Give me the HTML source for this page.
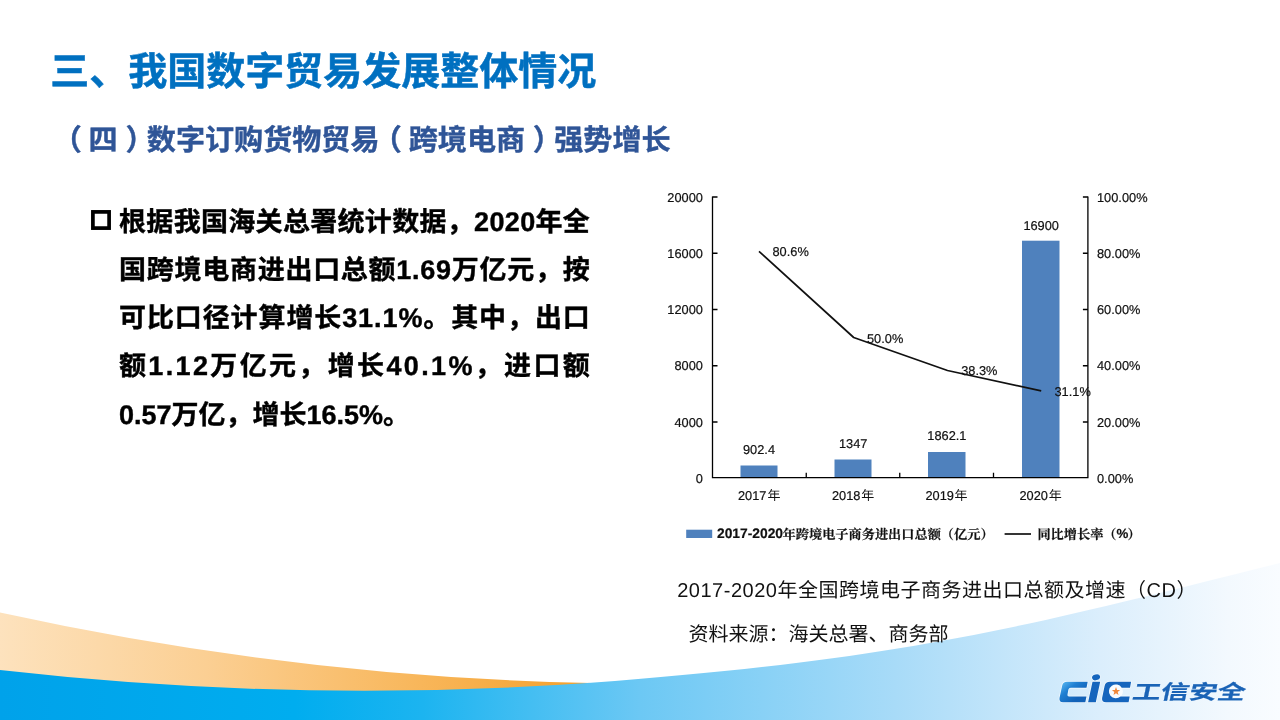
<!DOCTYPE html>
<html lang="zh-CN">
<head>
<meta charset="utf-8">
<title>三、我国数字贸易发展整体情况</title>
<style>
html,body{margin:0;padding:0;background:#fff}
body{width:1280px;height:720px;overflow:hidden;position:relative;font-family:"Liberation Sans",sans-serif}
#art{position:absolute;left:0;top:0;display:block;will-change:transform}
#art text{font-family:"Liberation Sans","Noto Sans CJK SC",sans-serif;font-size:12.8px;fill:#111;stroke:#111;stroke-width:.2px;text-rendering:geometricPrecision}
#art text.t1{font-weight:bold;font-size:39px;fill:#0070c0;stroke:#0070c0;stroke-width:.5px}
#art text.t2{font-weight:bold;font-size:29.1px;fill:#2f5597;stroke:#2f5597;stroke-width:.4px}
#art text.bd{font-weight:bold;font-size:27px;fill:#000;stroke:#000;stroke-width:.4px}
#art text.cap{font-size:20px;fill:#111;stroke:none}
#art text.lg{font-family:"Liberation Serif","Noto Serif CJK SC",serif;font-weight:bold;font-size:13.2px;fill:#111;stroke:#111;stroke-width:.2px}
#art text.logo{font-weight:bold;font-size:20px;fill:#1a63b6;stroke:#1a63b6;stroke-width:.2px}
</style>
</head>
<body>
<svg id="art" width="1280" height="720" viewBox="0 0 1280 720">
<defs>
<linearGradient id="gO" x1="0" y1="0" x2="591" y2="0" gradientUnits="userSpaceOnUse">
<stop offset="0" stop-color="#fde2bd"/><stop offset=".35" stop-color="#fbcf93"/><stop offset=".7" stop-color="#f8b75c"/><stop offset="1" stop-color="#f5a02a"/>
</linearGradient>
<linearGradient id="gB" x1="0" y1="0" x2="1280" y2="0" gradientUnits="userSpaceOnUse">
<stop offset="0" stop-color="#00a2ea"/><stop offset=".23" stop-color="#00adef"/><stop offset=".33" stop-color="#1cb4f0"/><stop offset=".5" stop-color="#6cc8f4"/><stop offset=".7" stop-color="#a8dbf8"/><stop offset=".86" stop-color="#dbeefc"/><stop offset=".96" stop-color="#f3f9fe"/><stop offset="1" stop-color="#f9fcff"/>
</linearGradient>
<linearGradient id="gC" x1="1061" y1="683" x2="1075" y2="700" gradientUnits="userSpaceOnUse">
<stop offset="0" stop-color="#58b6f0"/><stop offset=".45" stop-color="#1f7fd2"/><stop offset="1" stop-color="#1262b8"/>
</linearGradient>

</defs>

<!-- bottom decoration -->
<path d="M0,612.5Q295.5,677.3 591,683L591,720L0,720Z" fill="url(#gO)"/>
<path d="M0,670Q295.5,703.6 591,682.7C907.7,659 1031.6,625.2 1280,563L1280,720L0,720Z" fill="url(#gB)"/>

<!-- chart -->
<g fill="#4f81bd">
<rect x="740.5" y="465.5" width="37" height="12.5"/>
<rect x="834.5" y="459.5" width="37" height="18.5"/>
<rect x="928" y="452" width="37.5" height="26"/>
<rect x="1022" y="240.7" width="37.5" height="237.3"/>
<rect x="686.2" y="529.7" width="26" height="8.3"/>
</g>
<g stroke="#000" stroke-width="1.3" fill="none">
<path d="M712.5,196.4V477.7H1087.9V196.4"/>
<path d="M712.5,197h5M712.5,253.25h5M712.5,309.5h5M712.5,365.75h5M712.5,422h5"/>
<path d="M1087.9,197h-5M1087.9,253.25h-5M1087.9,309.5h-5M1087.9,365.75h-5M1087.9,422h-5"/>
<path d="M806.25,477.7v-5M899.75,477.7v-5M993.5,477.7v-5"/>
</g>
<g stroke="#111" stroke-width="1.7" fill="none" stroke-linejoin="round">
<path d="M759,251.3L853.7,337.5L947.5,370.5L1041.2,390.8"/>
<path d="M1004.6,534H1031"/>
</g>
<g text-anchor="end">
<text x="702.9" y="201.6">20000</text>
<text x="702.9" y="257.9">16000</text>
<text x="702.9" y="314.1">12000</text>
<text x="702.9" y="370.4">8000</text>
<text x="702.9" y="426.6">4000</text>
<text x="702.9" y="482.8">0</text>
</g>
<g>
<text x="1097" y="201.6">100.00%</text>
<text x="1097" y="257.9">80.00%</text>
<text x="1097" y="314.1">60.00%</text>
<text x="1097" y="370.4">40.00%</text>
<text x="1097" y="426.6">20.00%</text>
<text x="1097" y="482.8">0.00%</text>
</g>
<g text-anchor="middle">
<text x="759" y="453.8">902.4</text>
<text x="853.2" y="447.5">1347</text>
<text x="946.9" y="440">1862.1</text>
<text x="1041.2" y="230">16900</text>
</g>
<g>
<text x="772.5" y="256.3">80.6%</text>
<text x="867" y="342.5">50.0%</text>
<text x="961.2" y="375">38.3%</text>
<text x="1054.5" y="395.5">31.1%</text>
<text x="738" y="500">2017<tspan x="767.4" y="500.4" style="font-size:13px;stroke:none">年</tspan></text>
<text x="832" y="500">2018<tspan x="861.2" y="500.4" style="font-size:13px;stroke:none">年</tspan></text>
<text x="925.5" y="500">2019<tspan x="954.6" y="500.4" style="font-size:13px;stroke:none">年</tspan></text>
<text x="1019.5" y="500">2020<tspan x="1048.7" y="500.4" style="font-size:13px;stroke:none">年</tspan></text>
<text x="717" y="538.3" style="font-weight:bold;font-size:13.8px">2017-2020</text>
<text x="1116.6" y="538.3" style="font-weight:bold;font-size:13.3px">%</text>
<text class="lg" x="782.6" y="538.6">年跨境电子商务进出口总额（亿元）</text>
<text class="lg" x="1037.4" y="538.6">同比增长率（</text>
<text class="lg" x="1127.6" y="538.6">）</text>
</g>

<!-- bullet -->
<rect x="92.9" y="211.9" width="16.2" height="16.2" fill="none" stroke="#000" stroke-width="3.7"/>

<!-- logo -->
<circle cx="1116" cy="691.6" r="6.9" fill="#fff" fill-opacity=".75"/>
<g stroke="#fff" stroke-opacity=".75" stroke-width="1.4" paint-order="stroke" stroke-linejoin="round">
<path fill="url(#gC)" d="M1087.7,681.8L1067,681.8Q1063,681.8 1062.2,685.5L1059.5,698Q1058.9,702.2 1063,702.2L1085.3,702.2L1086.5,696.4L1069,696.4Q1067.1,696.4 1067.5,694.5L1068.4,689.6Q1068.8,687.7 1070.8,687.7L1086.5,687.7Z"/>
<path fill="#1565bd" d="M1092.5,681.8L1100.2,681.8L1095.8,702.2L1088.1,702.2Z"/>
<ellipse fill="#1565bd" cx="1096.1" cy="677.3" rx="4.1" ry="2.9" transform="rotate(-14 1096.1 677.4)"/>
<path fill="#1565bd" d="M1131.1,681.8L1110,681.8Q1105.5,681.8 1104.6,686L1102.1,698Q1101.5,702.2 1106,702.2L1128.6,702.2L1129.7,696.4L1120.5,696.4A6.9,6.9 0 1 1 1121.7,687.7L1130,687.7Z"/>
</g>
<polygon fill="#f0883a" points="1116.0,687.1 1117.1,689.9 1120.1,690.1 1117.7,692.0 1118.5,694.9 1116.0,693.2 1113.5,694.9 1114.3,692.0 1111.9,690.1 1114.9,689.9"/>

<!-- text -->
<text class="t1" x="50.3" y="85.4" textLength="546" lengthAdjust="spacing">三、我国数字贸易发展整体情况</text>
<text class="t2" y="150.3"><tspan x="52.66">（</tspan><tspan x="88.6">四</tspan><tspan x="125.41">）</tspan><tspan x="146.8">数字订购货物贸易</tspan><tspan x="372.76">（</tspan><tspan x="408.7">跨境电商</tspan><tspan x="532.81">）</tspan><tspan x="554.2">强势增长</tspan></text>
<text class="bd" x="119" y="231.1" textLength="470.8" lengthAdjust="spacing">根据我国海关总署统计数据，2020年全</text>
<text class="bd" x="119" y="279.2" textLength="470.8" lengthAdjust="spacing">国跨境电商进出口总额1.69万亿元，按</text>
<text class="bd" x="119" y="327.3" textLength="470.8" lengthAdjust="spacing">可比口径计算增长31.1%。其中，出口</text>
<text class="bd" x="119" y="375.4" textLength="470.8" lengthAdjust="spacing">额1.12万亿元，增长40.1%，进口额</text>
<text class="bd" x="119" y="423.5">0.57万亿，增长16.5%。</text>
<text class="cap" x="677.2" y="597.2" textLength="519.3" lengthAdjust="spacing">2017-2020年全国跨境电子商务进出口总额及增速（CD）</text>
<text class="cap" x="688.6" y="641.4">资料来源：海关总署、商务部</text>
<text class="logo" transform="translate(1131.5,699.4) skewX(-12) scale(1.41,1)" x="0" y="0">工信安全</text>
</svg>
</body>
</html>
